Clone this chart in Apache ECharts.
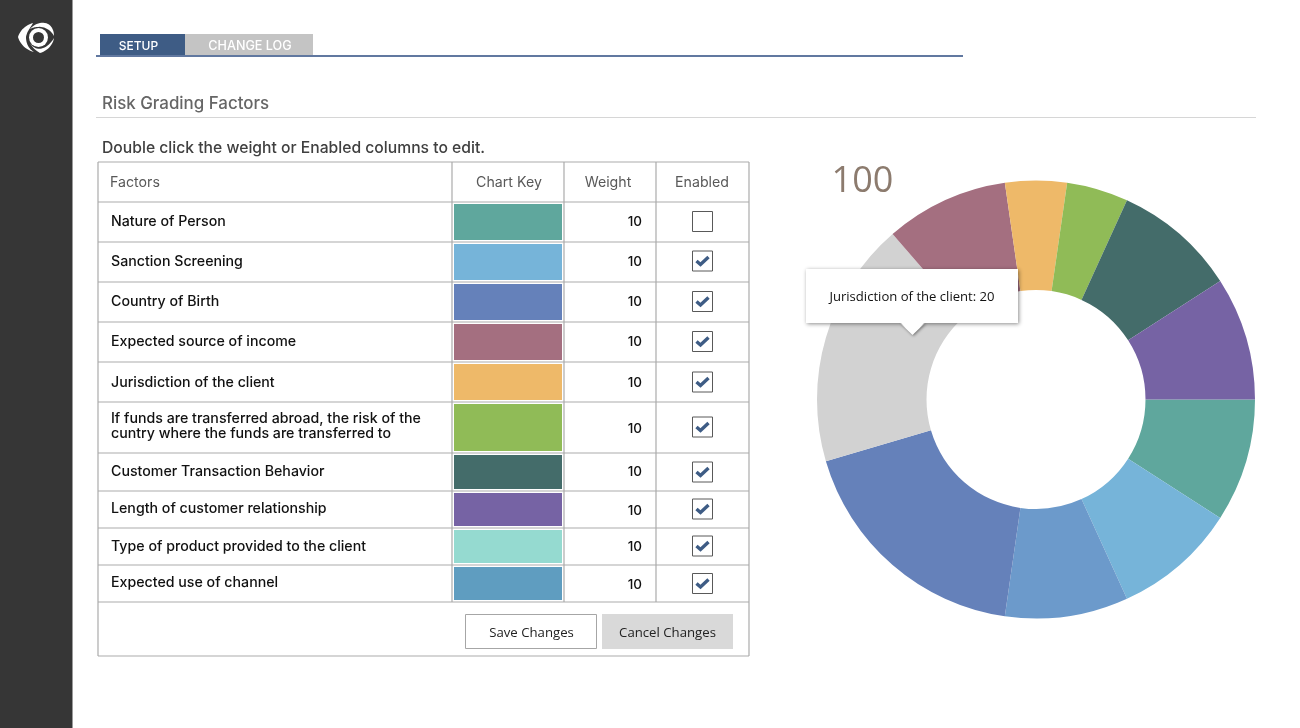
<!DOCTYPE html>
<html><head><meta charset="utf-8">
<style>html,body{margin:0;padding:0;background:#fff}#c{width:1300px;height:728px}</style>
<script src="https://cdn.jsdelivr.net/npm/echarts@6/dist/echarts.min.js"></script>
</head><body><div id="c"></div>
<script>
const factorNames = ['Nature of Person','Sanction Screening','Country of Birth','Expected source of income','Jurisdiction of the client','If funds are transferred abroad, the risk of the\ncuntry where the funds are transferred to','Customer Transaction Behavior','Length of customer relationship','Type of product provided to the client','Expected use of channel'];
const factorWeights = [10,10,10,10,10,10,10,10,10,10];
const factorEnabled = [false,true,true,true,true,true,true,true,true,true];
const keyColors = ['#5FA79D','#76B4D9','#6581BA','#A46F80','#EEB969','#90BB57','#446C6A','#7663A4','#95DAD0','#5F9DC0'];
const sliceNames = ['Nature of Person','Sanction Screening','Expected use of channel','Country of Birth','Jurisdiction of the client','Expected source of income','Type of product provided to the client','If funds are transferred abroad','Customer Transaction Behavior','Length of customer relationship'];
const sliceValues = [10,10,10,20,20,10,5,5,10,10];
const sliceColors = ['#5FA79D','#76B4D9','#6C9ACB','#6581BA','#D2D2D2','#A46F80','#EEB969','#90BB57','#446C6A','#7663A4'];
const columnHeaders = ['Factors','Chart Key','Weight','Enabled'];
const totalLabel = '100';
const tooltipText = 'Jurisdiction of the client: 20';

const UI = 'Inter, "Noto Sans", sans-serif';
const HUM = '"Open Sans", "Noto Sans", sans-serif';
const rowY = [202,242,282,322,362,402,453,491,528,565,602];
const nameYs = [222,262,302,342,383,426.5,472,509,547,583];
const weightYs = [222,262,302,342,383,429,472,511,547,585];
const checkYs = [221.5,261,301.5,341.5,382,427,472,509,546,583.5];
const colX = [98,452,564,656,749];
const g = [];
const rect = (x,y,w,h,fill,extra={}) => g.push({type:'rect',shape:{x,y,width:w,height:h},style:{fill,...extra.style},z:extra.z||1,silent:true});
const line = (x1,y1,x2,y2,stroke,w=1,z=2) => g.push({type:'line',shape:{x1,y1,x2,y2},style:{stroke,lineWidth:w},z,silent:true});
const text = (x,y,t,font,fill,align='left',z=5,lh) => g.push({type:'text',x,y,style:{text:t,font,fill,align,verticalAlign:'middle',lineHeight:lh},z,silent:true});
const side = '#363636';
// closed shape from a start point and cubic segments, flattened to a polygon (logo only)
const blob = (start,segs,fill,z) => {
  const pts=[start]; let p=start;
  segs.forEach(([a,b,c])=>{ for(let k=1;k<=12;k++){const t=k/12,u=1-t;
    pts.push([u*u*u*p[0]+3*u*u*t*a[0]+3*u*t*t*b[0]+t*t*t*c[0],u*u*u*p[1]+3*u*u*t*a[1]+3*u*t*t*b[1]+t*t*t*c[1]]);} p=c;});
  g.push({type:'polygon',shape:{points:pts},style:{fill},z,silent:true});
};

// sidebar
rect(0,0,72.5,728,side);
blob([18,37],[[[20,30],[26,25],[33,23]],[[31,27],[27,31],[26,37]],[[26,44],[29,49],[34,52]],[[26,50],[20,44],[18,37]]],'#fff',3);
blob([30,29],[[[34,24],[42,21],[48,24]],[[52,26],[54,31],[54,36]],[[51,30],[44,26],[38,27]],[[34,27],[32,28],[30,29]]],'#fff',3);
blob([30,43],[[[33,48],[38,50],[43,48]],[[47,47],[51,43],[54,38]],[[53,45],[47,51],[40,53]],[[35,50],[32,47],[30,43]]],'#fff',3);
g.push({type:'circle',shape:{cx:38.5,cy:37.5,r:9.5},style:{fill:'#fff'},z:5,silent:true});
g.push({type:'circle',shape:{cx:38.5,cy:37.5,r:5.5},style:{fill:side},z:6,silent:true});

// tabs
rect(100,34,85,22,'#3E5C85');
rect(185,34,128,21,'#C4C4C4');
line(96,56,963,56,'#6178A0',2);
text(138.5,46.5,'SETUP','500 12px '+UI,'#fff','center');
text(250,46.5,'CHANGE LOG','500 12.6px '+UI,'#fff','center');

text(102,103.5,'Risk Grading Factors','500 16.9px '+UI,'#666');
line(96,117.5,1256,117.5,'#D6D6D6',1);
text(102,148.5,'Double click the weight or Enabled columns to edit.','500 15.7px '+UI,'#404040');

// table
const tableLine = '#ABABAB';
[162,...rowY,656].forEach(y => line(98,y,749,y,tableLine,1.2));
line(98,162,98,656,tableLine,1.2);
line(749,162,749,656,tableLine,1.2);
colX.slice(1,4).forEach(x => line(x,162,x,602,tableLine,1.2));
const headFont = '400 14.2px '+UI;
text(110,183,columnHeaders[0],headFont,'#595959');
text(509,183,columnHeaders[1],headFont,'#595959','center');
text(608,183,columnHeaders[2],headFont,'#595959','center');
text(702,183,columnHeaders[3],headFont,'#595959','center');

factorNames.forEach((name,i) => {
  const top = rowY[i], bot = rowY[i+1];
  text(111,nameYs[i],name,'500 14.2px '+UI,'#111','left',5,15);
  rect(454,top+2,108,bot-top-4,keyColors[i]);
  text(642,weightYs[i],String(factorWeights[i]),'500 13.5px '+UI,'#111','right');
  const cx = 702.5, cy = checkYs[i];
  g.push({type:'rect',shape:{x:cx-10,y:cy-10,width:20,height:20},style:{fill:'#fff',stroke:'#595959',lineWidth:1},z:3,silent:true});
  if (factorEnabled[i]) g.push({type:'polyline',shape:{points:[[cx-6,cy],[cx-2,cy+3.5],[cx+6,cy-4]]},style:{stroke:'#3E5C85',lineWidth:3.4,fill:null},z:4,silent:true});
});

// buttons
g.push({type:'rect',shape:{x:465.5,y:614.5,width:131,height:34},style:{fill:'#fff',stroke:'#A6A6A6',lineWidth:1},z:3,silent:true});
rect(602,614,131,35,'#D9D9D9',{z:3});
text(531.5,633,'Save Changes','400 13.2px '+HUM,'#222','center');
text(667.5,633,'Cancel Changes','400 13.2px '+HUM,'#222','center');

// total
text(862.5,181.5,totalLabel,'400 36px '+HUM,'#8C7B6E','center');

// tooltip
g.push({type:'polygon',shape:{points:[[900,323],[925,323],[912.5,335]]},style:{fill:'#fff',shadowBlur:3,shadowColor:'rgba(0,0,0,.45)',shadowOffsetX:1,shadowOffsetY:1},z:8,silent:true});
g.push({type:'rect',shape:{x:806,y:269,width:212,height:54},style:{fill:'#fff',shadowBlur:4,shadowColor:'rgba(0,0,0,.45)',shadowOffsetX:1,shadowOffsetY:1},z:8,silent:true});
g.push({type:'polygon',shape:{points:[[900,322],[925,322],[912.5,334]]},style:{fill:'#fff'},z:9,silent:true});
text(912,297,tooltipText,'400 13.1px '+HUM,'#111','center',10);

const chart = echarts.init(document.getElementById('c'),null,{renderer:'canvas'});
chart.setOption({
  animation:false,
  graphic:{elements:g},
  series:[{type:'pie',center:[1036,399.5],radius:[109.5,219],startAngle:0,clockwise:true,
    label:{show:false},labelLine:{show:false},silent:true,z:2,
    data:sliceValues.map((v,i)=>({name:sliceNames[i],value:v,itemStyle:{color:sliceColors[i]}}))}]
});
</script></body></html>
